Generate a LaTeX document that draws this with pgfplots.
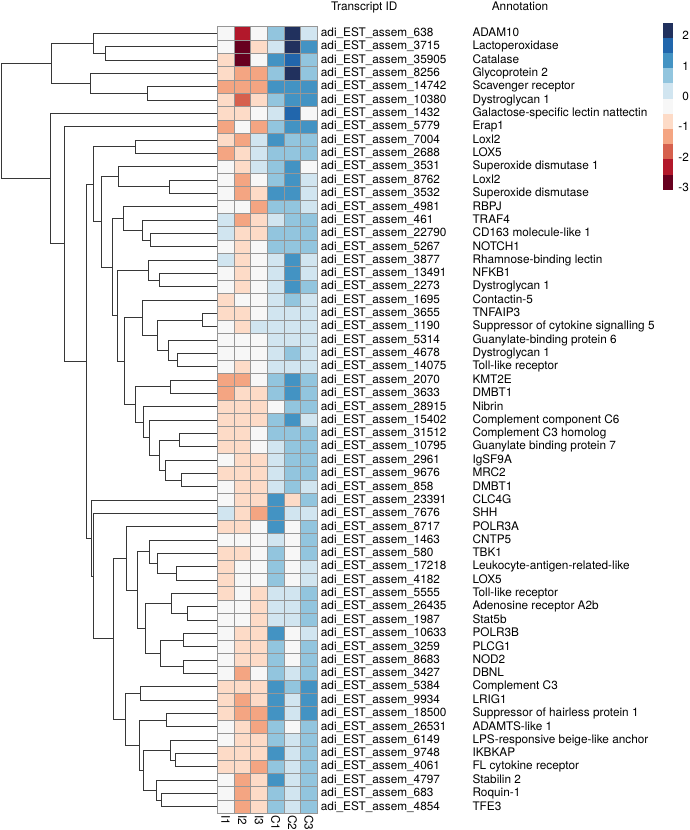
\documentclass[border=0pt]{standalone}
\usepackage{fontspec}
\setmainfont{TeX Gyre Heros}
\usepackage{pgfplots}
\usepackage{pgfplotstable}
\pgfplotsset{compat=1.18}

\definecolor{cellgray}{RGB}{150,150,150}
\definecolor{treecol}{RGB}{55,55,55}
\newcommand\fs{\fontsize{11.8pt}{14pt}\selectfont}
\protected\def\lab#1#2{\makebox[151.6pt][l]{adi\_EST\_assem\_#1}#2}

\pgfdeclareplotmark{cell}{\pgfpathrectangle{\pgfqpoint{-8.3333pt}{-6.6667pt}}{\pgfqpoint{16.6667pt}{13.3333pt}}\pgfusepathqfillstroke}
\pgfdeclareplotmark{legcell}{\pgfpathrectangle{\pgfqpoint{-5pt}{-7.6pt}}{\pgfqpoint{10pt}{15.2pt}}\pgfusepathqfill}

\pgfplotsset{
  hm/.style={
    colormap={rdbu}{rgb255=(103,0,31) rgb255=(178,24,43) rgb255=(214,96,77) rgb255=(244,165,130) rgb255=(253,219,199) rgb255=(247,247,247) rgb255=(209,229,240) rgb255=(146,197,222) rgb255=(67,147,195) rgb255=(33,102,172) rgb255=(33,49,94)},
    colormap access=piecewise constant,
    point meta min=-3.08, point meta max=2.42},
  cellplot/.style={scatter, only marks, mark=cell, line width=0.7pt,
    scatter/use mapped color={draw=cellgray, fill=mapped color}, point meta=explicit},
  dend/.style={treecol, line width=0.8pt, no markers},
}

% log2 fold changes (I1 I2 I3 C1 C2 C3), rows in dendrogram order
\pgfplotstableread{
I1 I2 I3 C1 C2 C3
-0.3 -2.3 -0.3 0.7 2.2 0.2
-0.3 -2.8 -0.8 0.2 2.2 1.2
-0.8 -2.8 -0.3 1.2 1.7 0.7
-0.8 -1.3 -1.3 0.7 2.2 0.7
-1.3 -1.3 -1.3 1.2 1.2 1.2
-0.8 -1.8 -0.8 0.7 1.2 1.2
-0.8 -0.8 -0.3 0.2 1.7 -0.3
-1.3 -0.3 -1.3 0.7 1.2 1.2
-0.8 -1.3 0.2 1.2 0.7 0.7
-1.3 -0.8 0.2 0.7 0.7 0.7
-0.3 -0.8 0.2 0.7 1.2 -0.3
-0.3 -1.3 -0.3 0.7 1.2 0.2
-0.3 -1.3 -0.8 1.2 1.2 0.2
-0.3 -0.3 -1.3 0.7 0.7 0.2
0.2 -1.3 -0.8 0.2 0.7 0.7
0.2 -0.8 -0.8 0.7 0.7 0.7
-0.3 -0.8 -0.3 0.7 0.7 0.7
0.2 -0.8 -0.3 0.2 1.2 0.2
-0.3 -0.8 -0.3 0.2 1.2 0.2
-0.3 -0.8 -0.3 0.2 1.2 0.7
-0.8 -0.3 -0.3 0.2 0.7 0.2
-0.8 -0.8 -0.3 0.2 0.2 0.2
-0.3 -0.8 0.2 0.2 0.2 0.2
-0.3 -0.3 -0.3 0.2 0.2 0.2
-0.3 -0.3 -0.3 0.2 0.7 0.2
-0.3 -0.8 -0.3 0.2 0.2 0.2
-1.3 -1.3 -0.3 0.7 1.2 0.7
-1.3 -0.8 -0.8 0.7 1.2 0.7
-0.8 -0.8 -0.8 -0.3 0.7 0.7
-0.8 -0.8 -0.8 0.7 1.2 0.2
-0.8 -0.8 -0.3 0.7 0.7 0.7
-0.8 -0.8 -0.3 0.2 0.7 0.7
-0.3 -0.8 -0.8 0.2 0.7 0.7
-0.8 -0.8 -0.8 0.2 0.7 0.7
-0.3 -0.8 -0.8 0.2 0.7 0.2
-0.3 -0.8 -0.8 1.2 -0.8 0.7
0.2 -0.8 -1.3 1.2 0.2 0.2
-0.8 -0.8 -0.3 1.2 -0.3 0.7
-0.3 -0.3 -0.3 0.2 -0.3 0.7
-0.8 -0.8 -0.3 0.7 -0.3 0.7
-0.8 -0.3 -0.3 0.7 -0.3 0.2
-0.8 -0.3 -0.3 0.7 -0.3 0.2
-0.8 -0.3 -0.8 0.2 0.2 0.7
-0.3 -0.3 -0.8 0.2 0.2 0.7
-0.3 -0.3 -0.8 0.2 0.2 0.7
-0.3 -0.8 -0.8 1.2 -0.3 0.2
-0.3 -0.8 -0.8 0.7 -0.3 0.7
-0.3 -0.8 -0.8 0.7 -0.3 0.7
-0.3 -1.3 -0.3 0.7 0.2 0.7
-0.8 -0.8 -0.8 1.2 0.7 1.2
-0.8 -1.3 -0.8 1.2 0.2 1.2
-0.8 -1.3 -1.3 1.2 0.2 1.2
-0.3 -0.8 -1.3 0.7 -0.3 0.7
-0.3 -0.8 -0.8 0.7 0.2 0.7
-0.8 -0.8 -0.8 1.2 0.2 0.7
-0.8 -0.8 -1.3 0.7 0.2 0.7
-0.3 -1.3 -0.8 1.2 0.2 0.7
-0.3 -1.3 -0.8 0.7 0.2 0.7
-0.3 -1.3 -0.8 0.7 0.2 0.7
}\heat

\begin{document}
\begin{tikzpicture}
\path[use as bounding box] (0pt,0pt) rectangle (689pt,-830pt);

% ---------- dendrogram ----------
\begin{axis}[at={(1pt,-26.667pt)}, anchor=north west, scale only axis,
  width=216.333pt, height=786.667pt, xmin=0, xmax=216.333, x dir=reverse,
  ymin=-59.5, ymax=-0.5, hide axis, clip=false]
\addplot[dend] coordinates {(0,-2) (111.67,-2) (111.67,-3) (0,-3)};
\addplot[dend] coordinates {(0,-1) (124,-1) (124,-2.5) (111.67,-2.5)};
\addplot[dend] coordinates {(0,-5) (69.67,-5) (69.67,-6) (0,-6)};
\addplot[dend] coordinates {(0,-4) (127.33,-4) (127.33,-5.5) (69.67,-5.5)};
\addplot[dend] coordinates {(124,-1.75) (165.67,-1.75) (165.67,-4.75) (127.33,-4.75)};
\addplot[dend] coordinates {(0,-9) (81.67,-9) (81.67,-10) (0,-10)};
\addplot[dend] coordinates {(0,-12) (48,-12) (48,-13) (0,-13)};
\addplot[dend] coordinates {(0,-11) (99,-11) (99,-12.5) (48,-12.5)};
\addplot[dend] coordinates {(0,-16) (67.33,-16) (67.33,-17) (0,-17)};
\addplot[dend] coordinates {(0,-15) (75,-15) (75,-16.5) (67.33,-16.5)};
\addplot[dend] coordinates {(0,-14) (94,-14) (94,-15.75) (75,-15.75)};
\addplot[dend] coordinates {(0,-19) (58.33,-19) (58.33,-20) (0,-20)};
\addplot[dend] coordinates {(0,-18) (69,-18) (69,-19.5) (58.33,-19.5)};
\addplot[dend] coordinates {(0,-22) (15,-22) (15,-23) (0,-23)};
\addplot[dend] coordinates {(0,-25) (40.33,-25) (40.33,-26) (0,-26)};
\addplot[dend] coordinates {(0,-24) (48.67,-24) (48.67,-25.5) (40.33,-25.5)};
\addplot[dend] coordinates {(15,-22.5) (59.67,-22.5) (59.67,-24.75) (48.67,-24.75)};
\addplot[dend] coordinates {(0,-21) (74.67,-21) (74.67,-23.625) (59.67,-23.625)};
\addplot[dend] coordinates {(0,-27) (47.33,-27) (47.33,-28) (0,-28)};
\addplot[dend] coordinates {(0,-31) (38,-31) (38,-32) (0,-32)};
\addplot[dend] coordinates {(0,-34) (36.33,-34) (36.33,-35) (0,-35)};
\addplot[dend] coordinates {(0,-33) (51.67,-33) (51.67,-34.5) (36.33,-34.5)};
\addplot[dend] coordinates {(38,-31.5) (58,-31.5) (58,-33.75) (51.67,-33.75)};
\addplot[dend] coordinates {(0,-30) (68,-30) (68,-32.625) (58,-32.625)};
\addplot[dend] coordinates {(0,-29) (74,-29) (74,-31.3125) (68,-31.3125)};
\addplot[dend] coordinates {(47.33,-27.5) (82.33,-27.5) (82.33,-30.156) (74,-30.156)};
\addplot[dend] coordinates {(74.67,-22.3125) (93.33,-22.3125) (93.33,-28.828) (82.33,-28.828)};
\addplot[dend] coordinates {(69,-18.75) (99.67,-18.75) (99.67,-25.570) (93.33,-25.570)};
\addplot[dend] coordinates {(94,-14.875) (104.67,-14.875) (104.67,-22.160) (99.67,-22.160)};
\addplot[dend] coordinates {(99,-11.75) (116.33,-11.75) (116.33,-18.518) (104.67,-18.518)};
\addplot[dend] coordinates {(81.67,-9.5) (124,-9.5) (124,-15.134) (116.33,-15.134)};
\addplot[dend] coordinates {(0,-41) (40.67,-41) (40.67,-42) (0,-42)};
\addplot[dend] coordinates {(0,-40) (60,-40) (60,-41.5) (40.67,-41.5)};
\addplot[dend] coordinates {(0,-39) (68,-39) (68,-40.75) (60,-40.75)};
\addplot[dend] coordinates {(0,-44) (29.67,-44) (29.67,-45) (0,-45)};
\addplot[dend] coordinates {(0,-43) (46.33,-43) (46.33,-44.5) (29.67,-44.5)};
\addplot[dend] coordinates {(0,-46) (34,-46) (34,-47) (0,-47)};
\addplot[dend] coordinates {(0,-48) (34,-48) (34,-49) (0,-49)};
\addplot[dend] coordinates {(34,-46.5) (57.33,-46.5) (57.33,-48.5) (34,-48.5)};
\addplot[dend] coordinates {(46.33,-43.75) (71.67,-43.75) (71.67,-47.5) (57.33,-47.5)};
\addplot[dend] coordinates {(68,-39.875) (80,-39.875) (80,-45.625) (71.67,-45.625)};
\addplot[dend] coordinates {(0,-38) (91.33,-38) (91.33,-42.75) (80,-42.75)};
\addplot[dend] coordinates {(0,-50) (77.33,-50) (77.33,-51) (0,-51)};
\addplot[dend] coordinates {(0,-52) (51.33,-52) (51.33,-53) (0,-53)};
\addplot[dend] coordinates {(0,-55) (42.33,-55) (42.33,-56) (0,-56)};
\addplot[dend] coordinates {(0,-54) (46.67,-54) (46.67,-55.5) (42.33,-55.5)};
\addplot[dend] coordinates {(0,-58) (55.67,-58) (55.67,-59) (0,-59)};
\addplot[dend] coordinates {(0,-57) (60.67,-57) (60.67,-58.5) (55.67,-58.5)};
\addplot[dend] coordinates {(46.67,-54.75) (74,-54.75) (74,-57.75) (60.67,-57.75)};
\addplot[dend] coordinates {(51.33,-52.5) (78,-52.5) (78,-56.25) (74,-56.25)};
\addplot[dend] coordinates {(77.33,-50.5) (92.33,-50.5) (92.33,-54.375) (78,-54.375)};
\addplot[dend] coordinates {(91.33,-40.375) (104,-40.375) (104,-52.4375) (92.33,-52.4375)};
\addplot[dend] coordinates {(0,-37) (124,-37) (124,-46.406) (104,-46.406)};
\addplot[dend] coordinates {(0,-36) (126.33,-36) (126.33,-41.703) (124,-41.703)};
\addplot[dend] coordinates {(124,-12.317) (131.33,-12.317) (131.33,-38.852) (126.33,-38.852)};
\addplot[dend] coordinates {(0,-8) (153.33,-8) (153.33,-25.584) (131.33,-25.584)};
\addplot[dend] coordinates {(0,-7) (167.33,-7) (167.33,-16.792) (153.33,-16.792)};
\addplot[dend] coordinates {(165.67,-3.25) (216.33,-3.25) (216.33,-11.896) (167.33,-11.896)};
\end{axis}

% ---------- heatmap ----------
\begin{axis}[hm, at={(217.333pt,-26.667pt)}, anchor=north west, scale only axis,
  width=100pt, height=786.667pt, xmin=0.5, xmax=6.5, ymin=-59.5, ymax=-0.5,
  clip=false, axis line style={draw=none}, major tick length=0pt, minor tick length=0pt,
  tick label style={font=\fs},
  xtick={1,...,6}, xticklabels={I1,I2,I3,C1,C2,C3},
  xticklabel style={rotate=-90, anchor=west, inner sep=1.7pt},
  ytick={-1,-2,...,-59}, yticklabel pos=right,
  yticklabel style={anchor=west, inner sep=0pt, xshift=3.4pt},
  yticklabels={\lab{638}{ADAM10},\lab{3715}{Lactoperoxidase},\lab{35905}{Catalase},\lab{8256}{Glycoprotein 2},\lab{14742}{Scavenger receptor},\lab{10380}{Dystroglycan 1},\lab{1432}{Galactose-specific lectin nattectin},\lab{5779}{Erap1},\lab{7004}{Loxl2},\lab{2688}{LOX5},\lab{3531}{Superoxide dismutase 1},\lab{8762}{Loxl2},\lab{3532}{Superoxide dismutase},\lab{4981}{RBPJ},\lab{461}{TRAF4},\lab{22790}{CD163 molecule-like 1},\lab{5267}{NOTCH1},\lab{3877}{Rhamnose-binding lectin},\lab{13491}{NFKB1},\lab{2273}{Dystroglycan 1},\lab{1695}{Contactin-5},\lab{3655}{TNFAIP3},\lab{1190}{Suppressor of cytokine signalling 5},\lab{5314}{Guanylate-binding protein 6},\lab{4678}{Dystroglycan 1},\lab{14075}{Toll-like receptor},\lab{2070}{KMT2E},\lab{3633}{DMBT1},\lab{28915}{Nibrin},\lab{15402}{Complement component C6},\lab{31512}{Complement C3 homolog},\lab{10795}{Guanylate binding protein 7},\lab{2961}{IgSF9A},\lab{9676}{MRC2},\lab{858}{DMBT1},\lab{23391}{CLC4G},\lab{7676}{SHH},\lab{8717}{POLR3A},\lab{1463}{CNTP5},\lab{580}{TBK1},\lab{17218}{Leukocyte-antigen-related-like},\lab{4182}{LOX5},\lab{5555}{Toll-like receptor},\lab{26435}{Adenosine receptor A2b},\lab{1987}{Stat5b},\lab{10633}{POLR3B},\lab{3259}{PLCG1},\lab{8683}{NOD2},\lab{3427}{DBNL},\lab{5384}{Complement C3},\lab{9934}{LRIG1},\lab{18500}{Suppressor of hairless protein 1},\lab{26531}{ADAMTS-like 1},\lab{6149}{LPS-responsive beige-like anchor},\lab{9748}{IKBKAP},\lab{4061}{FL cytokine receptor},\lab{4797}{Stabilin 2},\lab{683}{Roquin-1},\lab{4854}{TFE3}},
]
\addplot[cellplot] table[x expr=1, y expr=-\coordindex-1, meta=I1] {\heat};
\addplot[cellplot] table[x expr=2, y expr=-\coordindex-1, meta=I2] {\heat};
\addplot[cellplot] table[x expr=3, y expr=-\coordindex-1, meta=I3] {\heat};
\addplot[cellplot] table[x expr=4, y expr=-\coordindex-1, meta=C1] {\heat};
\addplot[cellplot] table[x expr=5, y expr=-\coordindex-1, meta=C2] {\heat};
\addplot[cellplot] table[x expr=6, y expr=-\coordindex-1, meta=C3] {\heat};
\end{axis}

% ---------- colour legend ----------
\begin{axis}[hm, at={(663.333pt,-22.667pt)}, anchor=north west, scale only axis,
  width=10pt, height=167.2pt, xmin=0.5, xmax=1.5, ymin=-3.08, ymax=2.42,
  clip=false, axis line style={draw=none}, major tick length=0pt,
  tick label style={font=\fs}, xtick=\empty,
  ytick={-3,-2,-1,0,1,2}, yticklabels={{-3},{-2},{-1},0,1,2},
  yticklabel pos=right, yticklabel style={anchor=east, inner sep=0pt, xshift=15.7pt}]
\addplot[scatter, only marks, mark=legcell, point meta=y,
  scatter/use mapped color={draw=none, fill=mapped color}]
  coordinates {(1,2.17) (1,1.67) (1,1.17) (1,0.67) (1,0.17) (1,-0.33) (1,-0.83) (1,-1.33) (1,-1.83) (1,-2.33) (1,-2.83)};
\end{axis}

\node[anchor=base, font=\fs] at (364.2pt,-10pt) {Transcript ID};
\node[anchor=base, font=\fs] at (520pt,-10pt) {Annotation};
\end{tikzpicture}
\end{document}
